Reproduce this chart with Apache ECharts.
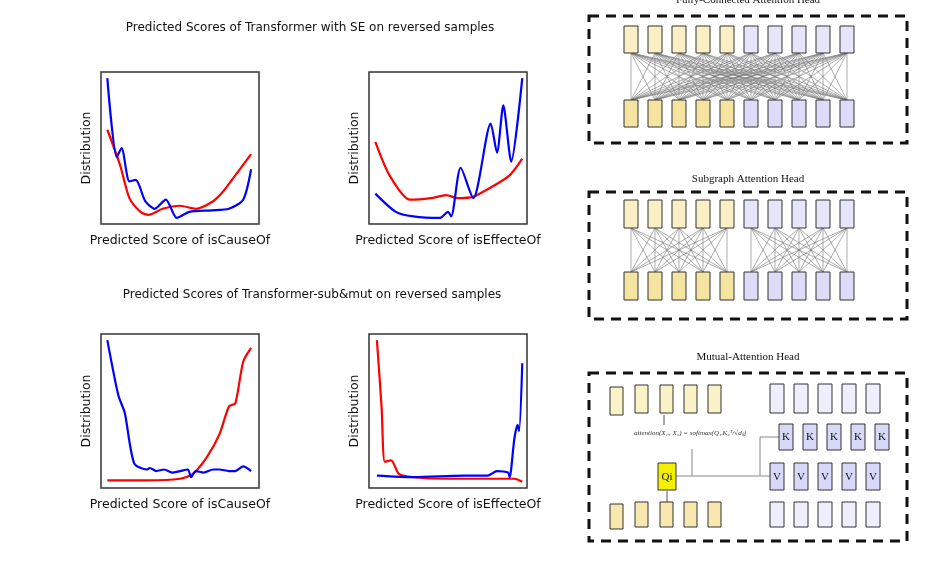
<!DOCTYPE html>
<html>
<head>
<meta charset="utf-8">
<script src="https://cdn.jsdelivr.net/npm/echarts@6/dist/echarts.min.js"></script>
<style>html,body{margin:0;padding:0;background:#fff}#main{width:941px;height:565px}</style>
</head>
<body>
<div id="main"></div>
<script>
// 四个分布图的数据 (x: 0..1 预测分数, y: 0..100 相对分布)
var seCauseBlue = [[0.04,96],[0.1,44],[0.13,50],[0.18,28],[0.22,29],[0.28,15],[0.34,10],[0.41,16],[0.48,4],[0.56,8],[0.7,9],[0.81,10],[0.9,16],[0.95,36]];
var seCauseRed = [[0.04,62],[0.12,39],[0.18,17],[0.25,8],[0.30,6],[0.39,10],[0.50,12],[0.60,10],[0.71,15],[0.77,21],[0.85,32],[0.95,46]];
var seEffectBlue = [[0.04,20],[0.17,8],[0.28,5],[0.45,4],[0.50,8],[0.52,5],[0.58,37],[0.66,17],[0.77,66],[0.81,47],[0.85,78],[0.90,41],[0.97,96]];
var seEffectRed = [[0.04,54],[0.13,32],[0.26,16],[0.39,17],[0.49,19],[0.56,17],[0.66,18],[0.77,24],[0.89,32],[0.97,43]];
var subCauseBlue = [[0.04,96],[0.11,60],[0.15,49],[0.21,16],[0.29,12],[0.31,13],[0.35,11],[0.40,12],[0.45,10],[0.50,11],[0.55,12],[0.57,7],[0.60,11],[0.65,10],[0.71,12],[0.75,12],[0.81,11],[0.85,11],[0.90,14],[0.95,11]];
var subCauseRed = [[0.04,5],[0.29,5],[0.50,6],[0.58,9],[0.67,20],[0.75,35],[0.81,53],[0.85,55],[0.90,82],[0.95,91]];
var subEffectBlue = [[0.05,8],[0.28,7],[0.60,8],[0.75,8],[0.81,11],[0.88,10],[0.89,7],[0.92,32],[0.94,41],[0.95,37],[0.97,81]];
var subEffectRed = [[0.05,96],[0.08,52],[0.10,17],[0.14,18],[0.19,9],[0.28,7],[0.49,6],[0.92,6],[0.97,4]];

var xLabels = ['Predicted Score of isCauseOf', 'Predicted Score of isEffecteOf', 'Predicted Score of isCauseOf', 'Predicted Score of isEffecteOf'];
var panelSeries = [[seCauseBlue, seCauseRed], [seEffectBlue, seEffectRed], [subCauseBlue, subCauseRed], [subEffectBlue, subEffectRed]];
var gridBoxes = [[101, 72], [369, 72], [101, 334], [369, 334]];

// 结构图的列位置
var fcCols = [624, 648, 672, 696, 720, 744, 768, 792, 816, 840];
var mYellowCols = [610, 635, 660, 684, 708];
var mBlueCols = [770, 794, 818, 842, 866];

var chart = echarts.init(document.getElementById('main'));
var font = 'DejaVu Sans';

var grids = [], xAxes = [], yAxes = [], series = [];
for (var i = 0; i < 4; i++) {
    grids.push({left: gridBoxes[i][0], top: gridBoxes[i][1], width: 158, height: i < 2 ? 152 : 154,
        show: true, borderColor: '#333', borderWidth: 1.5});
    xAxes.push({gridIndex: i, type: 'value', min: 0, max: 1, axisLine: {show: false}, axisTick: {show: false},
        axisLabel: {show: false}, splitLine: {show: false},
        name: xLabels[i], nameLocation: 'middle', nameGap: 10, nameTextStyle: {fontFamily: font, fontSize: 12.5, color: '#111'}});
    yAxes.push({gridIndex: i, type: 'value', min: 0, max: 100, axisLine: {show: false}, axisTick: {show: false},
        axisLabel: {show: false}, splitLine: {show: false},
        name: 'Distribution', nameLocation: 'middle', nameGap: 8, nameTextStyle: {fontFamily: font, fontSize: 12.5, color: '#111'}});
    var cols = ['#0000ff', '#ff0000'];
    for (var j = 0; j < 2; j++) {
        series.push({type: 'line', xAxisIndex: i, yAxisIndex: i, data: panelSeries[i][j], smooth: 0.25,
            showSymbol: false, lineStyle: {color: cols[j], width: 2.2}, z: j ? 2 : 3});
    }
}

var g = [];
function box(x, y, w, h, fill) {
    g.push({type: 'rect', shape: {x: x, y: y, width: w, height: h}, style: {fill: fill, stroke: '#333', lineWidth: 1}, z: 10});
}
function line(x1, y1, x2, y2, c, w) {
    g.push({type: 'line', shape: {x1: x1, y1: y1, x2: x2, y2: y2}, style: {stroke: c || '#777', lineWidth: w || 0.6}, z: 5});
}
function dashBox(x, y, w, h) {
    g.push({type: 'rect', shape: {x: x, y: y, width: w, height: h}, style: {fill: 'none', stroke: '#111', lineWidth: 3, lineDash: [10, 7]}, z: 4});
}
function title(t, x, y) {
    g.push({type: 'text', x: x, y: y, style: {text: t, fontFamily: 'Liberation Serif', fontSize: 11, fill: '#111', textAlign: 'center', textVerticalAlign: 'middle'}});
}

// 全连接注意力
title('Fully-Connected Attention Head', 748, 0);
dashBox(589, 16, 318, 127);
for (var a = 0; a < 10; a++) {
    for (var b = 0; b < 10; b++) line(fcCols[a] + 7, 100, fcCols[b] + 7, 53);
}
for (var a = 0; a < 10; a++) {
    box(fcCols[a], 26, 14, 27, a < 5 ? '#fbf0c4' : '#e6e6fa');
    box(fcCols[a], 100, 14, 27, a < 5 ? '#f5e3a0' : '#dcdcf8');
}

// 子图注意力
title('Subgraph Attention Head', 748, 179);
dashBox(589, 192, 318, 127);
for (var a = 0; a < 10; a++) {
    for (var b = 0; b < 10; b++) {
        if ((a < 5) === (b < 5)) line(fcCols[a] + 7, 272, fcCols[b] + 7, 228);
    }
}
for (var a = 0; a < 10; a++) {
    box(fcCols[a], 200, 14, 28, a < 5 ? '#fbf0c4' : '#e6e6fa');
    box(fcCols[a], 272, 14, 28, a < 5 ? '#f5e3a0' : '#dcdcf8');
}

// 互注意力
title('Mutual-Attention Head', 748, 357);
dashBox(589, 373, 318, 168);
for (var a = 0; a < 5; a++) {
    box(mYellowCols[a], a === 0 ? 387 : 385, 13, 28, '#fbf3c8');
    box(mBlueCols[a], 384, 14, 29, '#eeeefc');
    box(mBlueCols[a] + 9, 424, 14, 26, '#d8d8f8');
    box(mBlueCols[a], 463, 14, 27, '#d8d8f8');
    box(mYellowCols[a], a === 0 ? 504 : 502, 13, 25, '#f8e8b0');
    box(mBlueCols[a], 502, 14, 25, '#eeeefc');
    g.push({type: 'text', x: mBlueCols[a] + 16, y: 437, style: {text: 'K', fontFamily: 'Liberation Serif', fontSize: 11, fill: '#111', textAlign: 'center', textVerticalAlign: 'middle'}, z: 11});
    g.push({type: 'text', x: mBlueCols[a] + 7, y: 477, style: {text: 'V', fontFamily: 'Liberation Serif', fontSize: 11, fill: '#111', textAlign: 'center', textVerticalAlign: 'middle'}, z: 11});
}
box(658, 463, 18, 27, '#f5f000');
g.push({type: 'text', x: 667, y: 477, style: {text: 'Qi', fontFamily: 'Liberation Serif', fontSize: 11, fill: '#111', textAlign: 'center', textVerticalAlign: 'middle'}, z: 11});
line(676, 476, 770, 476, '#888', 1);
line(692, 476, 692, 449, '#888', 1);
line(779, 437, 760, 437, '#888', 1);
line(760, 437, 760, 476, '#888', 1);
line(667, 502, 667, 491, '#555', 1);
line(664, 425, 664, 415, '#555', 1);
g.push({type: 'text', x: 690, y: 433, style: {text: 'attention(X\u2081\u1d62, X\u2082) = softmax(Q\u2081\u1d62K\u2082\u1d40/\u221ad\u2096)', fontFamily: 'Liberation Serif', fontStyle: 'italic', fontSize: 7, fill: '#333', textAlign: 'center', textVerticalAlign: 'middle'}});

var option = {
    backgroundColor: '#fff',
    animation: false,
    title: [
        {text: 'Predicted Scores of Transformer with SE on reversed samples', left: 305, top: 17, textAlign: 'center',
            textStyle: {fontFamily: font, fontSize: 12, fontWeight: 'normal', color: '#111'}},
        {text: 'Predicted Scores of Transformer-sub&mut on reversed samples', left: 307, top: 284, textAlign: 'center',
            textStyle: {fontFamily: font, fontSize: 12, fontWeight: 'normal', color: '#111'}}
    ],
    grid: grids,
    xAxis: xAxes,
    yAxis: yAxes,
    series: series,
    graphic: g
};
chart.setOption(option);
</script>
</body>
</html>
